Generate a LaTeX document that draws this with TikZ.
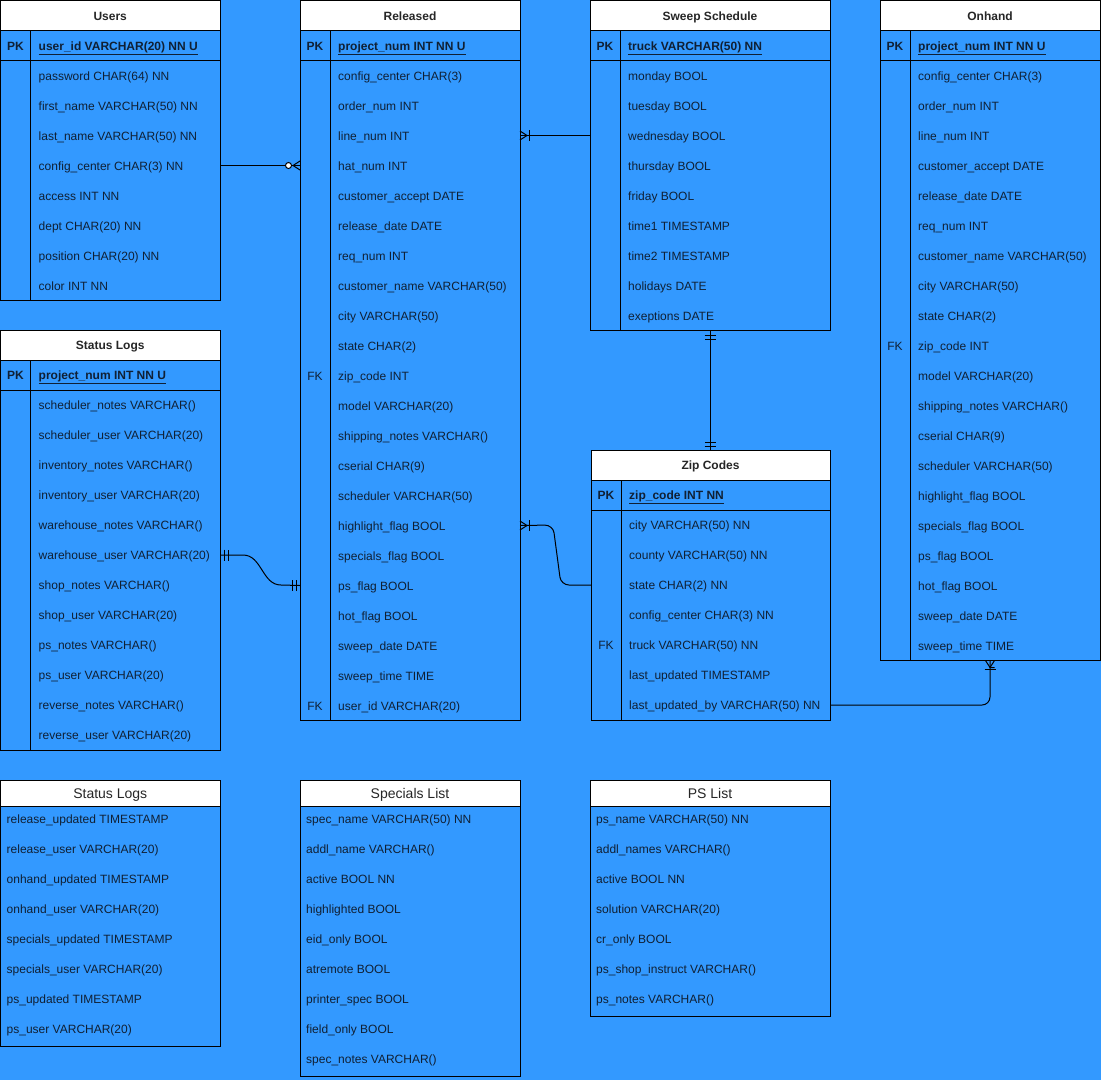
\documentclass[tikz,border=0pt]{standalone}
\usepackage{fontspec}
\setmainfont{Liberation Sans}
\usepackage{xcolor}
\usepackage{tikz}
\definecolor{bg}{RGB}{51,153,255}
\definecolor{ink}{RGB}{16,32,52}
\tikzset{table line/.style={draw=black,line width=1pt},
	table head/.style={draw=black,fill=white,line width=1pt,anchor=north west,inner sep=0pt,outer sep=0pt,minimum height=30pt,text=black!85,text height=9pt,text depth=0pt,font=\fontsize{12}{14}\selectfont\bfseries},
	plain head/.style={minimum height=26pt,text height=11pt,font=\fontsize{14}{16}\selectfont},
	field label/.style={anchor=west,inner sep=0pt,text=ink,text height=9pt,text depth=0pt,font=\fontsize{12}{14}\selectfont},
	key label/.style={inner sep=0pt,text=ink,text height=9pt,text depth=0pt,font=\fontsize{12}{14}\selectfont},
	link/.style={draw=black,line width=1pt}}

% table with key row: name, x, y, width, title, key, rows, fields
\newcommand\keytable[8]{%
	\node[table head,minimum width=#4pt] (#1) at (#2,#3) {#5};
	\draw[table line] (#2,#3+30) rectangle (#2+#4,#3+60+30*#7);
	\draw[table line] (#2,#3+60) -- (#2+#4,#3+60);
	\draw[table line] (#2+30,#3+30) -- (#2+30,#3+60+30*#7);
	\node[key label,font=\fontsize{12}{14}\selectfont\bfseries] (#1-pk) at (#2+15,#3+45) {PK};
	\node[field label,font=\fontsize{12}{14}\selectfont\bfseries] (#1-0) at (#2+38,#3+45) {\underline{#6}};
	\foreach \txt [count=\i] in {#8}
		\node[field label] (#1-\i) at (#2+38,#3+45+30*\i) {\txt};
	\coordinate (#1-bot) at (#2+#4/2,#3+60+30*#7);
}
% plain list table: name, x, y, width, title, rows, fields
\newcommand\listtable[7]{%
	\node[table head,plain head,minimum width=#4pt] (#1) at (#2,#3) {#5};
	\draw[table line] (#2,#3+26) rectangle (#2+#4,#3+26+30*#6);
	\foreach \txt [count=\i] in {#7}
		\node[field label] (#1-\i) at (#2+6,#3+9+30*\i) {\txt};
}

\begin{document}
\begin{tikzpicture}[x=1pt,y=-1pt]
	\fill[bg] (0,0) rectangle (1101,1080);
	\useasboundingbox (0,0) rectangle (1101,1080);
	\keytable{usr}{0.5}{0.5}{219.5}{Users}{user\_id VARCHAR(20) NN U}{8}{password CHAR(64) NN,first\_name VARCHAR(50) NN,last\_name VARCHAR(50) NN,config\_center CHAR(3) NN,access INT NN,dept CHAR(20) NN,position CHAR(20) NN,color INT NN}
	\keytable{sta}{0.5}{330}{219.5}{Status Logs}{project\_num INT NN U}{12}{scheduler\_notes VARCHAR(),scheduler\_user VARCHAR(20),inventory\_notes VARCHAR(),inventory\_user VARCHAR(20),warehouse\_notes VARCHAR(),warehouse\_user VARCHAR(20),shop\_notes VARCHAR(),shop\_user VARCHAR(20),ps\_notes VARCHAR(),ps\_user VARCHAR(20),reverse\_notes VARCHAR(),reverse\_user VARCHAR(20)}
	\keytable{rel}{300}{0.5}{220}{Released}{project\_num INT NN U}{22}{config\_center CHAR(3),order\_num INT,line\_num INT,hat\_num INT,customer\_accept DATE,release\_date DATE,req\_num INT,customer\_name VARCHAR(50),city VARCHAR(50),state CHAR(2),zip\_code INT,model VARCHAR(20),shipping\_notes VARCHAR(),cserial CHAR(9),scheduler VARCHAR(50),highlight\_flag BOOL,specials\_flag BOOL,ps\_flag BOOL,hot\_flag BOOL,sweep\_date DATE,sweep\_time TIME,user\_id VARCHAR(20)}
	\keytable{swp}{590}{0.5}{240}{Sweep Schedule}{truck VARCHAR(50) NN}{9}{monday BOOL,tuesday BOOL,wednesday BOOL,thursday BOOL,friday BOOL,time1 TIMESTAMP,time2 TIMESTAMP,holidays DATE,exeptions DATE}
	\keytable{onh}{880}{0.5}{220}{Onhand}{project\_num INT NN U}{20}{config\_center CHAR(3),order\_num INT,line\_num INT,customer\_accept DATE,release\_date DATE,req\_num INT,customer\_name VARCHAR(50),city VARCHAR(50),state CHAR(2),zip\_code INT,model VARCHAR(20),shipping\_notes VARCHAR(),cserial CHAR(9),scheduler VARCHAR(50),highlight\_flag BOOL,specials\_flag BOOL,ps\_flag BOOL,hot\_flag BOOL,sweep\_date DATE,sweep\_time TIME}
	\keytable{zip}{591}{450}{239}{Zip Codes}{zip\_code INT NN}{7}{city VARCHAR(50) NN,county VARCHAR(50) NN,state CHAR(2) NN,config\_center CHAR(3) NN,truck VARCHAR(50) NN,last\_updated TIMESTAMP,last\_updated\_by VARCHAR(50) NN}
	\node[key label] (rel-fk1) at (rel-11 -| rel-pk) {FK};
	\node[key label] (rel-fk2) at (rel-22 -| rel-pk) {FK};
	\node[key label] (onh-fk1) at (onh-10 -| onh-pk) {FK};
	\node[key label] (zip-fk1) at (zip-5 -| zip-pk) {FK};
	\listtable{log}{0.5}{780}{219.5}{Status Logs}{8}{release\_updated TIMESTAMP,release\_user VARCHAR(20),onhand\_updated TIMESTAMP,onhand\_user VARCHAR(20),specials\_updated TIMESTAMP,specials\_user VARCHAR(20),ps\_updated TIMESTAMP,ps\_user VARCHAR(20)}
	\listtable{spl}{300}{780}{220}{Specials List}{9}{spec\_name VARCHAR(50) NN,addl\_name VARCHAR(),active BOOL NN,highlighted BOOL,eid\_only BOOL,atremote BOOL,printer\_spec BOOL,field\_only BOOL,spec\_notes VARCHAR()}
	\listtable{psl}{590}{780}{240}{PS List}{7}{ps\_name VARCHAR(50) NN,addl\_names VARCHAR(),active BOOL NN,solution VARCHAR(20),cr\_only BOOL,ps\_shop\_instruct VARCHAR(),ps\_notes VARCHAR()}
	% links
	\draw[link] (usr-4 -| usr.east) -- (usr-4 -| rel.west) coordinate (rel-in1);
	\draw[link] (rel-in1) ++(0,-4.5) -- ++(-7,4.5) -- ++(7,4.5);
	\draw[link,fill=white] (rel-in1) ++(-11.5,0) circle[radius=3pt];
	\draw[link] (swp-3 -| swp.west) -- (swp-3 -| rel.east) coordinate (rel-in2);
	\draw[link] (rel-in2) ++(0,-4.5) -- ++(7,4.5) -- ++(-7,4.5);
	\draw[link] (rel-in2) ++(9,-5.5) -- ++(0,11);
	\draw[link] (sta-6 -| sta.east) -- ++(23,0) to[out=0,in=180] ++(38,30) -- (rel-18 -| rel.west) coordinate (rel-in3);
	\draw[link] (sta-6 -| sta.east) ++(4.5,-5.5) -- ++(0,11) ++(4,0) -- ++(0,-11);
	\draw[link] (rel-in3) ++(-7.5,-5.5) -- ++(0,11) ++(4,0) -- ++(0,-11);
	\draw[link,rounded corners=8pt] (zip-3 -| zip.west) -- ++(-30,0) -- ++(-8,-60) -- (rel-16 -| rel.east) coordinate (rel-in4);
	\draw[link] (rel-in4) ++(0,-4.5) -- ++(7,4.5) -- ++(-7,4.5);
	\draw[link] (rel-in4) ++(9,-5.5) -- ++(0,11);
	\draw[link] (swp-bot) -- (swp-bot |- zip.north) coordinate (zip-in1);
	\draw[link] (swp-bot) ++(-5.5,4.5) -- ++(11,0) ++(0,4) -- ++(-11,0);
	\draw[link] (zip-in1) ++(-5.5,-4) -- ++(11,0) ++(0,-4) -- ++(-11,0);
	\draw[link,rounded corners=8pt] (zip-7 -| zip.east) -- (zip-7 -| onh-bot) -- (onh-bot);
	\draw[link] (onh-bot) ++(-4.5,0) -- ++(4.5,7) -- ++(4.5,0);
	\draw[link] (onh-bot) ++(4.5,0) -- ++(-4.5,7);
	\draw[link] (onh-bot) ++(-5.5,8.5) -- ++(11,0);
\end{tikzpicture}
\end{document}
